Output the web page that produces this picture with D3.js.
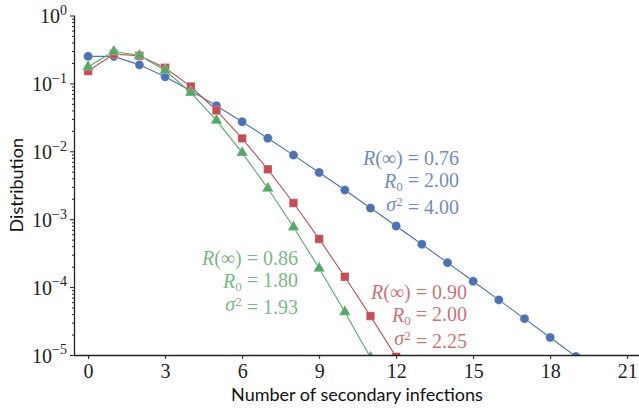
<!DOCTYPE html>
<html>
<head>
<meta charset="utf-8">
<script src="https://cdn.jsdelivr.net/npm/d3@7"></script>
<style>
  body { margin: 0; background: #fff; }
  svg text { white-space: pre; }
</style>
</head>
<body>
<div id="chart"></div>
<script>
// number of secondary infections k and the distribution value
const blueK = [0, 1, 2, 3, 4, 5, 6, 7, 8, 9, 10, 11, 12, 13, 14, 15, 16, 17, 18, 19, 20];
const blueVals = [0.25, 0.25, 0.1875, 0.125, 0.0781, 0.0469, 0.0273, 0.0156, 0.00879, 0.00488,
  0.00269, 0.00146, 0.000793, 0.000427, 0.000229, 0.000122, 0.0000648, 0.0000343, 0.0000181, 0.0000095, 0.000005];
const redK = [0, 1, 2, 3, 4, 5, 6, 7, 8, 9, 10, 11, 12];
const redVals = [0.152, 0.270, 0.255, 0.170, 0.0897, 0.0399, 0.0155, 0.00542, 0.00173, 0.000513,
  0.000142, 0.0000374, 0.0000094];
const greenK = [0, 1, 2, 3, 4, 5, 6, 7, 8, 9, 10, 11];
const greenVals = [0.176, 0.295, 0.258, 0.156, 0.0732, 0.0285, 0.00958, 0.00285, 0.000766, 0.000189,
  0.0000431, 0.0000092];

const xTicks = [0, 3, 6, 9, 12, 15, 18, 21];
const yTicks = [1, 1e-1, 1e-2, 1e-3, 1e-4, 1e-5];
const yTickExp = ['0', '\u22121', '\u22122', '\u22123', '\u22124', '\u22125'];

// annotation lines: [R(inf), R0, sigma^2]
const blueNote = ['0.76', '2.00', '4.00'];
const redNote = ['0.90', '2.00', '2.25'];
const greenNote = ['0.86', '1.80', '1.93'];

const W = 639, H = 412;
const mLeft = 74, mRight = 640, mTop = 15.5, mBottom = 355;
const serif = "'Liberation Serif', 'DejaVu Serif', serif";
const sans = "'Lato', 'DejaVu Sans', sans-serif";

const svg = d3.select('#chart').append('svg')
  .attr('width', W).attr('height', H)
  .attr('xmlns', 'http://www.w3.org/2000/svg');

const x = d3.scaleLinear().domain([-0.55, 21.5]).range([mLeft, mRight]);
const y = d3.scaleLog().domain([1e-5, 1]).range([mBottom, mTop]);

svg.append('clipPath').attr('id', 'plotclip')
  .append('rect')
  .attr('x', mLeft).attr('y', mTop - 10)
  .attr('width', mRight - mLeft).attr('height', mBottom - mTop + 10);

const plot = svg.append('g').attr('clip-path', 'url(#plotclip)');

function drawSeries(ks, vals, color, shape, size) {
  const pts = ks.map((k, i) => [k, vals[i]]);
  plot.append('path')
    .datum(pts)
    .attr('fill', 'none')
    .attr('stroke', color)
    .attr('stroke-width', 1.1)
    .attr('d', d3.line().x(d => x(d[0])).y(d => y(d[1])));
  plot.append('g')
    .selectAll('path')
    .data(pts)
    .join('path')
    .attr('transform', d => `translate(${x(d[0])},${y(d[1])})`)
    .attr('d', d3.symbol().type(shape).size(size))
    .attr('fill', color)
    .attr('stroke', '#fff')
    .attr('stroke-opacity', 0.35)
    .attr('stroke-width', 0.8);
}

drawSeries(blueK, blueVals, '#4C72B0', d3.symbolCircle, 64);
drawSeries(redK, redVals, '#C44E52', d3.symbolSquare, 72);
drawSeries(greenK, greenVals, '#55A868', d3.symbolTriangle, 58);

// axes
const gx = svg.append('g')
  .attr('transform', `translate(0,${mBottom})`)
  .call(d3.axisBottom(x).tickValues(xTicks).tickSize(4).tickSizeOuter(0).tickPadding(4)
    .tickFormat(d3.format('d')));
gx.select('.domain').attr('d', `M${mLeft},0.5H${mRight}`).attr('stroke', '#222').attr('stroke-width', 1.3);
gx.selectAll('.tick line').attr('stroke', '#222');
gx.selectAll('.tick text')
  .attr('font-family', serif).attr('font-size', 20).attr('fill', '#222').attr('dy', '0.75em');

const minors = [];
for (let e = -5; e < 0; e++) {
  for (let m = 2; m <= 9; m++) minors.push(m * Math.pow(10, e));
}
const gyMinor = svg.append('g')
  .attr('transform', `translate(${mLeft},0)`)
  .call(d3.axisLeft(y).tickValues(minors).tickSize(2).tickFormat(''));
gyMinor.select('.domain').remove();
gyMinor.selectAll('.tick line').attr('stroke', '#222');

const gy = svg.append('g')
  .attr('transform', `translate(${mLeft},0)`)
  .call(d3.axisLeft(y).tickValues(yTicks).tickSize(4).tickSizeOuter(0).tickFormat(''));
gy.select('.domain').attr('d', `M0.5,${mTop}V${mBottom}`).attr('stroke', '#222').attr('stroke-width', 1.3);
gy.selectAll('.tick line').attr('stroke', '#222');
gy.selectAll('.tick').each(function (d, i) {
  const t = d3.select(this).append('text')
    .attr('x', -7).attr('dy', '0.36em')
    .attr('text-anchor', 'end')
    .attr('font-family', serif).attr('font-size', 20).attr('fill', '#222');
  t.append('tspan').text('10');
  t.append('tspan').attr('dy', '-0.6em').attr('font-size', 14).text(yTickExp[i]);
});

// axis labels
svg.append('text')
  .attr('x', (mLeft + mRight) / 2).attr('y', 401)
  .attr('text-anchor', 'middle')
  .attr('font-family', sans).attr('font-size', 18).attr('fill', '#111')
  .text('Number of secondary infections');

svg.append('text')
  .attr('transform', `translate(23,${(mTop + mBottom) / 2}) rotate(-90)`)
  .attr('text-anchor', 'middle')
  .attr('font-family', sans).attr('font-size', 18).attr('fill', '#111')
  .text('Distribution');

// annotations
function note(vals, color, xr, y0) {
  const g = svg.append('g')
    .attr('font-family', serif).attr('font-size', 20)
    .attr('fill', color).attr('fill-opacity', 0.82)
    .attr('text-anchor', 'end');
  let t = g.append('text').attr('x', xr).attr('y', y0);
  t.append('tspan').attr('font-style', 'italic').text('R');
  t.append('tspan').text('(\u221E) = ' + vals[0]);
  t = g.append('text').attr('x', xr).attr('y', y0 + 23);
  t.append('tspan').attr('font-style', 'italic').text('R');
  t.append('tspan').attr('font-size', 13).attr('dy', '0.2em').text('0');
  t.append('tspan').attr('dy', '-0.2em').text(' = ' + vals[1]);
  t = g.append('text').attr('x', xr).attr('y', y0 + 46);
  t.append('tspan').attr('font-style', 'italic').text('\u03C3');
  t.append('tspan').attr('font-size', 13).attr('dy', '-0.4em').text('2');
  t.append('tspan').attr('dy', '0.4em').text(' = ' + vals[2]);
}
note(blueNote, '#4C72B0', 459, 165);
note(greenNote, '#55A868', 298, 265);
note(redNote, '#C44E52', 467, 299);
</script>
</body>
</html>
